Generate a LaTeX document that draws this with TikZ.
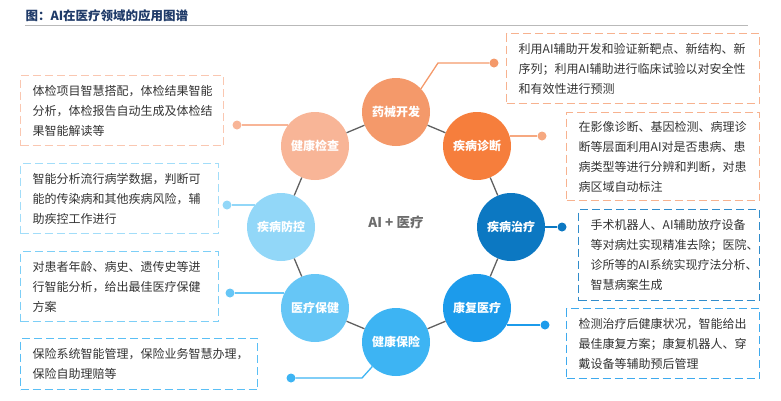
\documentclass[tikz,border=0pt]{standalone}
\usepackage{fontspec}
\setmainfont{Noto Sans CJK SC}
\usetikzlibrary{positioning}

\definecolor{orgA}{HTML}{F4996A}
\definecolor{orgB}{HTML}{F67E3C}
\definecolor{orgC}{HTML}{F8B597}
\definecolor{bluA}{HTML}{0C78C2}
\definecolor{bluB}{HTML}{1C9BEB}
\definecolor{bluC}{HTML}{3DB4F3}
\definecolor{bluD}{HTML}{66C6F6}
\definecolor{bluE}{HTML}{92D7F8}
\definecolor{txt}{HTML}{333333}
\definecolor{navy}{HTML}{1F3A68}

\begin{document}
\begin{tikzpicture}[
  x=1pt, y=-1pt,
  hub/.style={circle, minimum size=68pt, inner sep=0pt, text=white,
    font=\fontsize{12}{14}\selectfont\bfseries},
  note/.style={draw, dashed, dash pattern=on 8pt off 4pt, line width=1.4pt,
    anchor=north west, inner xsep=12pt, inner ysep=0pt, align=left, text=txt,
    font=\fontsize{12}{20}\selectfont},
  dot/.style={circle, minimum size=9pt, inner sep=0pt},
  ring/.style={draw=gray!75!black, line width=1.3pt},
  link/.style={line width=1.3pt},
]
  \useasboundingbox (0,0) rectangle (781,400);

  % Title
  \node[anchor=west, text=navy, font=\fontsize{12.5}{14}\selectfont\bfseries]
    (title) at (22,16) {图：AI在医疗领域的应用图谱};
  \coordinate (ruleL) at (25,25);
  \coordinate (ruleR) at (748,25);
  \draw[gray!55, line width=0.8pt] (ruleL) -- (ruleR);

  % Hubs
  \node[hub, fill=orgA] (yaoxie)   at (396,112) {药械开发};
  \node[hub, fill=orgB] (zhenduan) at (477,146) {疾病诊断};
  \node[hub, fill=bluA] (zhiliao)  at (511,227) {疾病治疗};
  \node[hub, fill=bluB] (kangfu)   at (477,308) {康复医疗};
  \node[hub, fill=bluC] (baoxian)  at (396,342) {健康保险};
  \node[hub, fill=bluD] (baojian)  at (315,308) {医疗保健};
  \node[hub, fill=bluE] (fangkong) at (281,227) {疾病防控};
  \node[hub, fill=orgC] (jiancha)  at (315,146) {健康检查};

  \node[text=gray!85!black, font=\fontsize{13.5}{15}\selectfont\bfseries]
    (center) at (396,222) {AI + 医疗};

  % Ring
  \foreach \a/\b in {yaoxie/zhenduan, zhenduan/zhiliao, zhiliao/kangfu,
    kangfu/baoxian, baoxian/baojian, baojian/fangkong, fangkong/jiancha,
    jiancha/yaoxie}
    \draw[ring] (\a) -- (\b);

  % Notes
  \node[note, draw=orgA!75, text width=229pt, minimum height=70pt]
    (yaoxiebox) at (506,33)
    {利用AI辅助开发和验证新靶点、新结构、新\\序列；利用AI辅助进行临床试验以对安全性\\和有效性进行预测};
  \node[note, draw=orgA!75, text width=169pt, minimum height=88pt]
    (zhenduanbox) at (566,112)
    {在影像诊断、基因检测、病理诊\\断等层面利用AI对是否患病、患\\病类型等进行分辨和判断，对患\\病区域自动标注};
  \node[note, draw=bluA!85, text width=157pt, minimum height=91pt]
    (zhiliaobox) at (578,209)
    {手术机器人、AI辅助放疗设备\\等对病灶实现精准去除；医院、\\诊所等的AI系统实现疗法分析、\\智慧病案生成};
  \node[note, draw=bluB!85, text width=169pt, minimum height=70pt]
    (kangfubox) at (566,308)
    {检测治疗后健康状况，智能给出\\最佳康复方案；康复机器人、穿\\戴设备等辅助预后管理};
  \node[note, draw=bluC!85, text width=213pt, minimum height=51pt]
    (baoxianbox) at (20,338)
    {保险系统智能管理，保险业务智慧办理，\\保险自助理赔等};
  \node[note, draw=bluD!85, text width=174pt, minimum height=70pt]
    (baojianbox) at (20,251)
    {对患者年龄、病史、遗传史等进\\行智能分析，给出最佳医疗保健\\方案};
  \node[note, draw=bluE!85, text width=174pt, minimum height=70pt]
    (fangkongbox) at (20,163)
    {智能分析流行病学数据，判断可\\能的传染病和其他疾病风险，辅\\助疾控工作进行};
  \node[note, draw=orgC!75, text width=179pt, minimum height=70pt]
    (jianchabox) at (20,75)
    {体检项目智慧搭配，体检结果智能\\分析，体检报告自动生成及体检结\\果智能解读等};

  % Dots
  \node[dot, fill=orgA] (yaoxiedot)   at (494,63) {};
  \node[dot, fill=orgA!85] (zhenduandot) at (542,136) {};
  \node[dot, fill=bluA] (zhiliaodot)  at (562,227) {};
  \node[dot, fill=bluB] (kangfudot)   at (545,325) {};
  \node[dot, fill=bluC] (baoxiandot)  at (291,378) {};
  \node[dot, fill=bluD] (baojiandot)  at (230,293) {};
  \node[dot, fill=bluE] (fangkongdot) at (227,205) {};
  \node[dot, fill=orgC] (jianchadot)  at (237,125) {};

  % Links
  \coordinate (yaoxiebend) at (438,63);
  \coordinate (baoxianbend) at (362,378);
  \draw[link, draw=orgA] (yaoxie.43) -- (yaoxiebend) -- (yaoxiedot);
  \draw[link, draw=orgA!85] (zhenduan.17 |- zhenduandot) -- (zhenduandot);
  \draw[link, draw=bluA] (zhiliao.east) -- (zhiliaodot);
  \draw[link, draw=bluB] (kangfu.-30 |- kangfudot) -- (kangfudot);
  \draw[link, draw=bluC] (baoxian.226) -- (baoxianbend) -- (baoxiandot);
  \draw[link, draw=bluD] (baojian.154 |- baojiandot) -- (baojiandot);
  \draw[link, draw=bluE] (fangkong.140 |- fangkongdot) -- (fangkongdot);
  \draw[link, draw=orgC] (jiancha.142 |- jianchadot) -- (jianchadot);
\end{tikzpicture}
\end{document}
